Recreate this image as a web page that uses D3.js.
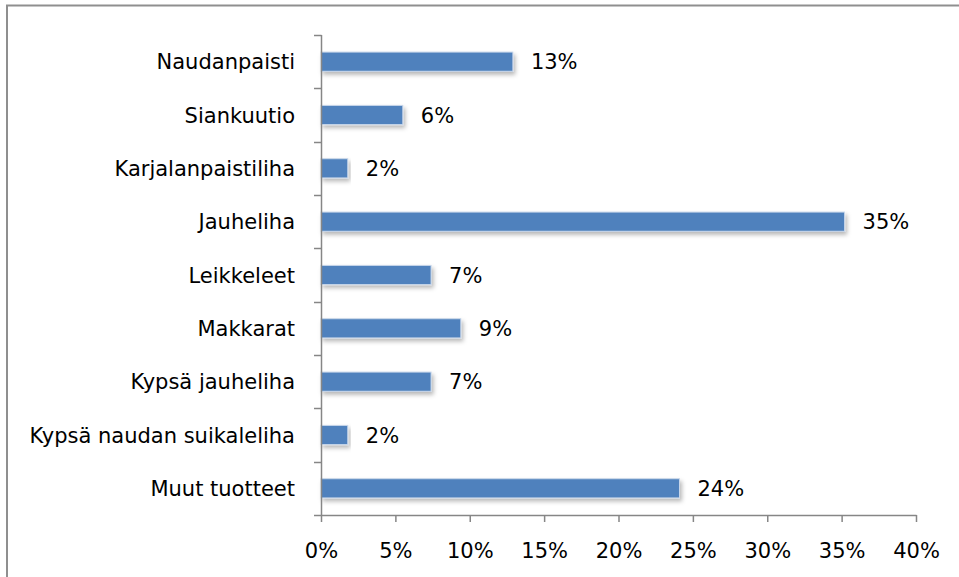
<!DOCTYPE html>
<html>
<head>
<meta charset="utf-8">
<script src="https://cdn.jsdelivr.net/npm/d3@7"></script>
<style>
  html, body { margin: 0; padding: 0; background: #fff; }
  #container { width: 959px; height: 577px; }
  text { font-family: "DejaVu Sans", sans-serif; fill: #000; }
</style>
</head>
<body>
<div id="container"></div>
<script>
var categories = ['Naudanpaisti', 'Siankuutio', 'Karjalanpaistiliha', 'Jauheliha', 'Leikkeleet',
	'Makkarat', 'Kypsä jauheliha', 'Kypsä naudan suikaleliha', 'Muut tuotteet'];
var shares = [12.9, 5.5, 1.8, 35.2, 7.4, 9.4, 7.4, 1.8, 24.1];
var tickValues = [0, 5, 10, 15, 20, 25, 30, 35, 40];

var W = 959, H = 577;
var margin = { top: 35, right: 43, bottom: 62, left: 321 };
var width = W - margin.left - margin.right,
	height = H - margin.top - margin.bottom;

var svg = d3.select('#container').append('svg')
	.attr('width', W)
	.attr('height', H);

// outer chart frame
svg.append('rect')
	.attr('x', 7)
	.attr('y', 5.5)
	.attr('width', W + 10)
	.attr('height', H + 10)
	.style('fill', '#fff')
	.attr('stroke', '#8f8f8f')
	.attr('stroke-width', 2);

var defs = svg.append('defs');
var shadow = defs.append('filter')
	.attr('id', 'shadow')
	.attr('x', '-10%').attr('y', '-30%')
	.attr('width', '120%').attr('height', '180%');
shadow.append('feDropShadow')
	.attr('dx', 2).attr('dy', 3)
	.attr('stdDeviation', 2)
	.attr('flood-color', '#000')
	.attr('flood-opacity', 0.28);

var g = svg.append('g')
	.attr('transform', 'translate(' + margin.left + ',' + margin.top + ')');

var x = d3.scaleLinear().domain([0, 40]).range([0, width]);
var y = d3.scaleBand().domain(categories).range([0, height])
	.paddingInner(0.64).paddingOuter(0.32);

// bars
g.selectAll('.bar')
	.data(shares)
	.enter().append('rect')
	.attr('class', 'bar')
	.attr('x', 0)
	.attr('y', function(d, i) { return y(categories[i]); })
	.attr('width', function(d) { return x(d); })
	.attr('height', y.bandwidth())
	.style('fill', '#4f81bd')
	.attr('stroke', '#c9d7ea')
	.attr('stroke-width', 1)
	.attr('filter', 'url(#shadow)');

// value labels
g.selectAll('.val')
	.data(shares)
	.enter().append('text')
	.attr('class', 'val')
	.attr('x', function(d) { return x(d) + 18; })
	.attr('y', function(d, i) { return y(categories[i]) + y.bandwidth() / 2 + 7.5; })
	.style('font-size', '21px')
	.text(function(d) { return Math.round(d) + '%'; });

// category labels
g.selectAll('.cat')
	.data(categories)
	.enter().append('text')
	.attr('class', 'cat')
	.attr('x', -26)
	.attr('y', function(d) { return y(d) + y.bandwidth() / 2 + 7.5; })
	.attr('text-anchor', 'end')
	.style('font-size', '21px')
	.text(function(d) { return d; });

// y axis line with ticks between categories
var step = y.step();
g.append('line')
	.attr('x1', 0.5).attr('x2', 0.5)
	.attr('y1', 0).attr('y2', height)
	.attr('stroke', '#868686').attr('stroke-width', 1.5);
g.selectAll('.ytick')
	.data(d3.range(categories.length + 1))
	.enter().append('line')
	.attr('class', 'ytick')
	.attr('x1', -7).attr('x2', 0.5)
	.attr('y1', function(i) { return Math.round(i * step) + 0.5; })
	.attr('y2', function(i) { return Math.round(i * step) + 0.5; })
	.attr('stroke', '#868686').attr('stroke-width', 1.5);

// x axis
var xAxis = g.append('g')
	.attr('transform', 'translate(0,' + height + ')')
	.call(d3.axisBottom(x).tickValues(tickValues).tickSize(7).tickSizeOuter(0)
		.tickFormat(function(d) { return d + '%'; }));
xAxis.select('.domain').attr('stroke', '#868686').attr('stroke-width', 1.5);
xAxis.selectAll('.tick line').attr('stroke', '#868686').attr('stroke-width', 1.5);
xAxis.selectAll('.tick text')
	.attr('y', 43)
	.attr('dy', null)
	.style('font-size', '21px')
	.style('font-family', '"DejaVu Sans", sans-serif')
	.attr('fill', '#000');
</script>
</body>
</html>
